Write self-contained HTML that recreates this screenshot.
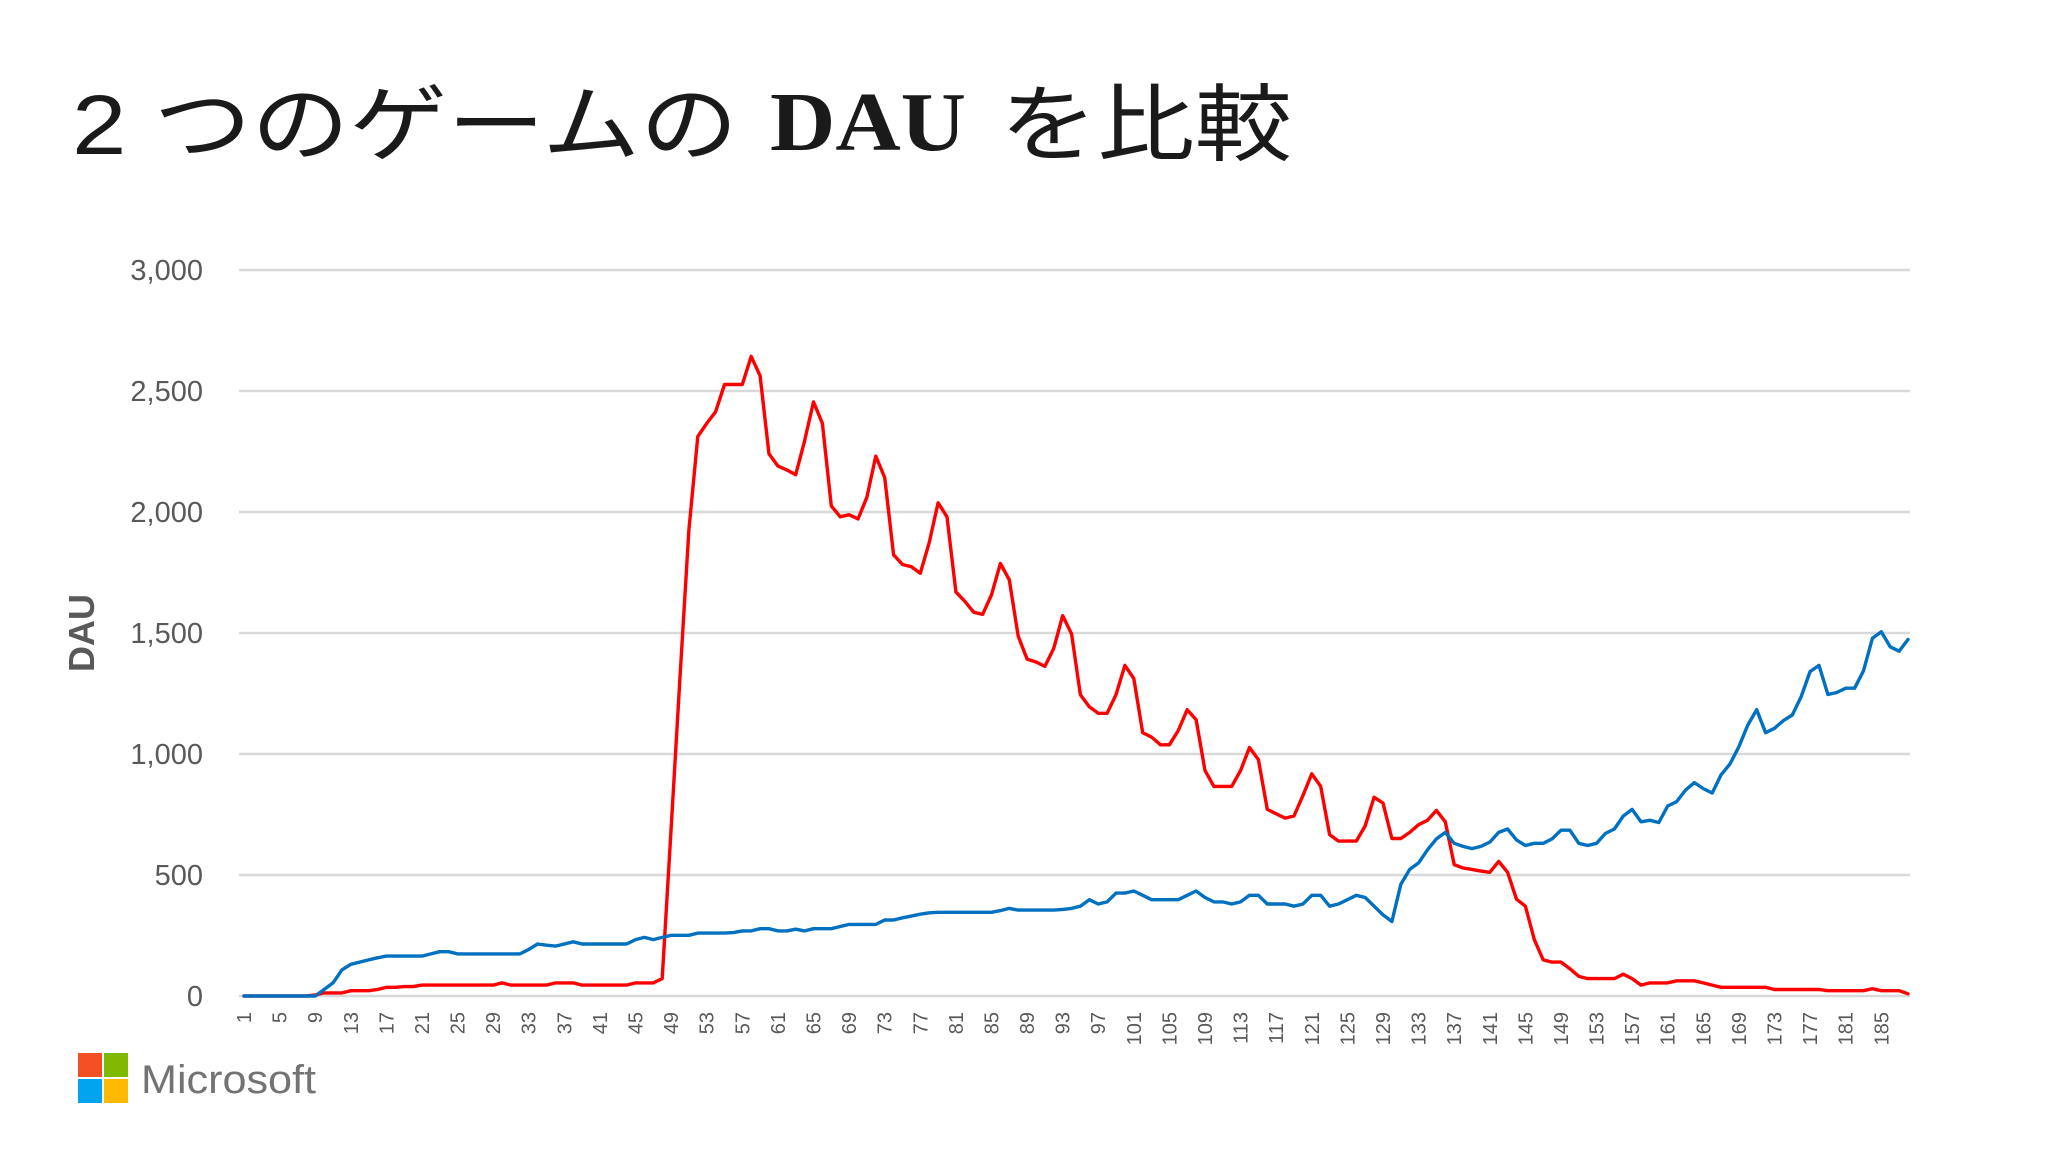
<!DOCTYPE html>
<html><head><meta charset="utf-8"><style>
html,body{margin:0;padding:0;background:#fff;width:2048px;height:1153px;overflow:hidden}
svg{display:block}
</style></head><body>
<svg id="chart" width="2048" height="1153" viewBox="0 0 2048 1153" xmlns="http://www.w3.org/2000/svg">
<rect width="2048" height="1153" fill="#ffffff"/>
<g fill="#1a1a1a">
<text x="72" y="154" font-size="84" font-family="Liberation Sans, Noto Sans CJK JP, sans-serif" textLength="666" lengthAdjust="spacingAndGlyphs">2 つのゲームの</text>
<text x="770" y="150" font-size="84" font-weight="bold" font-family="Liberation Serif, serif" textLength="196" lengthAdjust="spacingAndGlyphs">DAU</text>
<text x="1000" y="154" font-size="84" font-family="Liberation Sans, Noto Sans CJK JP, sans-serif" textLength="292" lengthAdjust="spacingAndGlyphs">を比較</text>
</g>
<g id="grid"></g>
<g id="ylabels"></g>
<g id="xlabels"></g>
<g id="series"></g>
<text x="0" y="0" transform="translate(94,633) rotate(-90)" text-anchor="middle" font-size="36" font-weight="bold" fill="#595959" font-family="Liberation Sans, sans-serif">DAU</text>
<g>
<rect x="78" y="1053" width="24" height="24" fill="#f25022"/>
<rect x="104" y="1053" width="24" height="24" fill="#7fba00"/>
<rect x="78" y="1079" width="24" height="24" fill="#00a4ef"/>
<rect x="104" y="1079" width="24" height="24" fill="#ffb900"/>
<text x="141" y="1093" font-size="40" fill="#737373" font-family="Liberation Sans, sans-serif" textLength="175" lengthAdjust="spacingAndGlyphs">Microsoft</text>
</g>
</svg>
<script>
const yTicks = [0, 500, 1000, 1500, 2000, 2500, 3000];
const yTickLabels = ["0", "500", "1,000", "1,500", "2,000", "2,500", "3,000"];
const xTickStep = 4;
const redSeries = [0,0,0,0,0,0,0,0,4,13,13,13,22,22,22,27,36,36,39,39,
45,45,45,45,45,45,45,45,45,54,45,45,45,45,45,54,54,54,45,45,45,45,45,45,54,54,54,72,690,1317,1926,
2312,2366,2414,2527,2527,2527,2643,2563,2240,2190,2174,2154,2294,2455,2366,2025,1980,1989,1971,2061,2231,2142,1823,1783,1774,1747,1873,2038,1980,1670,1631,1586,1577,1658,1787,1720,1487,1392,1380,1362,1437,1572,1496,
1245,1195,1168,1168,1245,1366,1312,1088,1070,1038,1038,1097,1183,1142,932,866,866,866,932,1027,977,771,753,735,744,828,918,866,667,640,640,640,703,821,797,651,651,676,708,726,767,720,543,529,523,516,
511,556,511,400,371,233,149,140,140,113,81,72,72,72,72,90,72,45,54,54,54,63,63,63,54,45,36,36,36,36,36,36,27,27,27,27,27,27,22,22,22,22,22,30,22,22,22,9];
const blueSeries = [0,0,0,0,0,0,0,0,0,27,54,108,131,140,149,158,165,165,165,165,165,174,183,183,174,174,174,174,174,174,174,174,192,215,210,206,215,224,215,215,215,215,215,215,233,242,233,242,
251,251,251,260,260,260,260,262,269,269,278,278,269,269,276,269,278,278,278,287,296,296,296,296,314,314,323,330,338,344,346,346,346,346,346,346,346,353,362,355,355,355,355,355,358,362,
371,398,380,389,425,425,434,416,398,398,398,398,416,434,407,389,389,380,389,416,416,380,380,380,371,380,416,416,371,380,398,416,407,371,335,308,461,523,550,604,649,676,631,618,609,618,
636,676,690,645,622,631,631,649,685,685,631,622,631,672,690,744,771,720,726,717,785,803,851,882,857,839,914,959,1030,1120,1183,1088,1106,1138,1161,1237,1341,1366,1246,1254,1272,1272,1344,1478,1505,1443,1425,1473];
const days = redSeries.map((_, i) => i + 1);

const NS = "http://www.w3.org/2000/svg";
const X0 = 244, X1 = 1908, Y0 = 996, Y1 = 270, YMAX = 3000;
function xScale(d){ return X0 + (d - 1) * (X1 - X0) / (days.length - 1); }
function yScale(v){ return Y0 - v / YMAX * (Y0 - Y1); }
function mk(tag, attrs){ const e = document.createElementNS(NS, tag); for (const k in attrs) e.setAttribute(k, attrs[k]); return e; }

const grid = document.getElementById('grid');
const ylab = document.getElementById('ylabels');
yTicks.forEach((t, i) => {
  const l = mk('line', {x1: 239, x2: 1910, y1: yScale(t), y2: yScale(t), stroke: '#d9d9d9', 'stroke-width': 2.5});
  
  
  grid.appendChild(l);
  const tx = mk('text', {x: 203, y: yScale(t) + 10, 'text-anchor': 'end', 'font-size': 29, fill: '#595959', 'font-family': 'Liberation Sans, sans-serif'});
  tx.textContent = yTickLabels[i];
  
  
  ylab.appendChild(tx);
});

const xlab = document.getElementById('xlabels');
days.forEach(d => {
  if ((d - 1) % xTickStep !== 0) return;
  const x = xScale(d) + 7;
  const tx = mk('text', {x: 0, y: 0, transform: 'translate(' + x + ',1012) rotate(-90)', 'text-anchor': 'end', 'font-size': 20, fill: '#595959', 'font-family': 'Liberation Sans, sans-serif'});
  tx.textContent = String(d);
  
  
  xlab.appendChild(tx);
});

const ser = document.getElementById('series');
function drawLine(vals, color, name){
  const pts = vals.map((v, i) => xScale(days[i]).toFixed(1) + ',' + yScale(v).toFixed(1)).join(' ');
  const p = mk('polyline', {points: pts, fill: 'none', stroke: color, 'stroke-width': 3.4, 'stroke-linejoin': 'round', 'stroke-linecap': 'round'});
  
  
  ser.appendChild(p);
}
drawLine(redSeries, '#ff0000', 'red-game-line');
drawLine(blueSeries, '#0070c0', 'blue-game-line');
</script>
</body></html>
